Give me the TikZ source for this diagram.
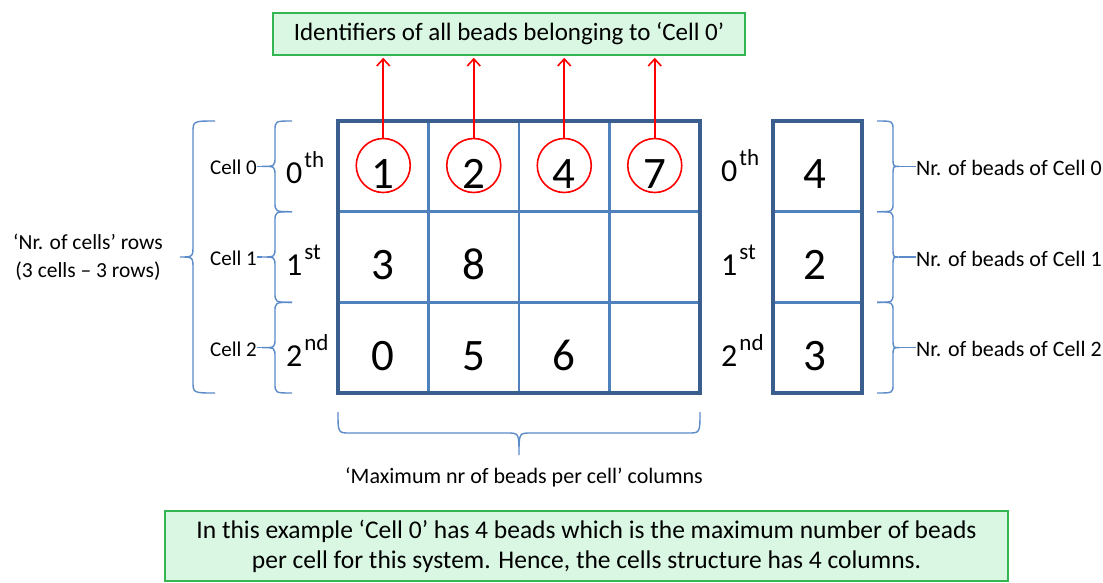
\documentclass[tikz,border=0pt]{standalone}
\usepackage{fontspec}
\setmainfont{Carlito}
\usetikzlibrary{arrows.meta}
\definecolor{gridout}{HTML}{3A5F8F}
\definecolor{gridin}{HTML}{4F81BD}
\definecolor{brcol}{HTML}{5B8BC9}
\definecolor{gfill}{HTML}{D9F7E2}
\definecolor{gline}{HTML}{33B552}
\newcommand\fsz[2]{\fontsize{#1}{#2}\selectfont}
\newcommand\ordn[2]{{\fsz{32}{34}#1}\hspace{2pt}\raisebox{16pt}{\fsz{23}{25}#2}}
\newcommand\vbr[6]{\draw[bracestyle] (#1,#4) .. controls (#2,#4) .. (#2,{#4+#6}) -- (#2,{(#4+#5)/2-#6}) .. controls (#2,{(#4+#5)/2}) .. (#3,{(#4+#5)/2}) .. controls (#2,{(#4+#5)/2}) .. (#2,{(#4+#5)/2+#6}) -- (#2,{#5-#6}) .. controls (#2,#5) .. (#1,#5);}
\begin{document}
\begin{tikzpicture}[x=1pt,y=-1pt,
  gbox/.style={draw=gline,fill=gfill,line width=1.6pt,inner sep=0pt,align=center},
  bracestyle/.style={draw=brcol,line width=1.4pt},
  digit/.style={anchor=base,font=\fsz{45}{48},inner sep=0pt},
  ord/.style={anchor=base west,inner sep=0pt},
  lab/.style={font=\fsz{22}{26},inner sep=0pt},
  bead/.style={circle,draw=red,line width=1.6pt,minimum size=54pt,inner sep=0pt},
  arr/.style={draw=red,line width=1.6pt,-{Straight Barb[length=7pt,width=13pt]}}]
\useasboundingbox (0,0) rectangle (1103,582);
% top box
\node[gbox,minimum width=472pt,minimum height=42pt,font=\fsz{25}{30}] (top) at (509,34) {Identifiers of all beads belonging to ‘Cell 0’};
% grid
\foreach \x in {428.5,519,609.5} \draw[gridin,line width=2.8pt] (\x,121) -- (\x,393);
\foreach \y in {211.7,302.3} \draw[gridin,line width=2.8pt] (338,\y) -- (700,\y);
\draw[gridout,line width=3.4pt] (338,121) rectangle (700,393);
% right column
\foreach \y in {211.7,302.3} \draw[gridin,line width=2.8pt] (773,\y) -- (862,\y);
\draw[gridout,line width=3.4pt] (773,121) rectangle (862,393);
% digits
\node[digit] (d00) at (383.25,188) {1};
\node[digit] (d01) at (473.75,188) {2};
\node[digit] (d02) at (564.25,188) {4};
\node[digit] (d03) at (654.75,188) {7};
\node[digit] (d10) at (383.25,279) {3};
\node[digit] (d11) at (473.75,279) {8};
\node[digit] (d20) at (383.25,370) {0};
\node[digit] (d21) at (473.75,370) {5};
\node[digit] (d22) at (564.25,370) {6};
\node[digit] (n0) at (815,188) {4};
\node[digit] (n1) at (815,279) {2};
\node[digit] (n2) at (815,370) {3};
% bead circles and arrows
\node[bead] (c1) at (383.25,165.5) {};
\node[bead] (c2) at (473.75,165.5) {};
\node[bead] (c3) at (564.25,165.5) {};
\node[bead] (c4) at (654.75,165.5) {};
\foreach \c in {c1,c2,c3,c4} \draw[arr] (\c.north) -- ([yshift=-2pt]\c.north |- top.south);
% ordinals
\node[ord] (lo0) at (286,183) {\ordn{0}{th}};
\node[ord] (lo1) at (286,275) {\ordn{1}{st}};
\node[ord] (lo2) at (286,366) {\ordn{2}{nd}};
\node[ord] (ro0) at (721,181) {\ordn{0}{th}};
\node[ord] (ro1) at (721,275) {\ordn{1}{st}};
\node[ord] (ro2) at (721,366) {\ordn{2}{nd}};
% left inner braces
\vbr{292}{275}{262}{121}{211.7}{10}
\vbr{292}{275}{262}{211.7}{302.3}{10}
\vbr{292}{275}{262}{302.3}{393}{10}
\coordinate (lt0) at (262,166.35);
\coordinate (lt1) at (262,257);
\coordinate (lt2) at (262,347.65);
\node[lab,anchor=base east,font=\fsz{21}{24}] (cl0) at (257,174) {Cell 0};
\node[lab,anchor=base east,font=\fsz{21}{24}] (cl1) at (257,265) {Cell 1};
\node[lab,anchor=base east,font=\fsz{21}{24}] (cl2) at (257,356) {Cell 2};
\draw[bracestyle] (lt0) -- (lt0 -| cl0.east);
\draw[bracestyle] (lt1) -- (lt1 -| cl1.east);
\draw[bracestyle] (lt2) -- (lt2 -| cl2.east);
% outer left brace
\vbr{215}{193}{180}{121}{393}{12}
\node[lab,align=center,font=\fsz{21.5}{28}] (rowslab) at (88,257) {‘Nr. of cells’ rows\\(3 cells – 3 rows)};
% right braces
\vbr{877}{893}{899}{121}{211.7}{9}
\vbr{877}{893}{899}{211.7}{302.3}{9}
\vbr{877}{893}{899}{302.3}{393}{9}
\coordinate (rt0) at (899,166.35);
\coordinate (rt1) at (899,257);
\coordinate (rt2) at (899,347.65);
\node[lab,anchor=base west] (rl0) at (916,175) {Nr. of beads of Cell 0};
\node[lab,anchor=base west] (rl1) at (916,266) {Nr. of beads of Cell 1};
\node[lab,anchor=base west] (rl2) at (916,356) {Nr. of beads of Cell 2};
\draw[bracestyle] (rt0) -- (rt0 -| rl0.west);
\draw[bracestyle] (rt1) -- (rt1 -| rl1.west);
\draw[bracestyle] (rt2) -- (rt2 -| rl2.west);
% bottom brace
\draw[bracestyle] (338,412) .. controls (338,433) .. (350,433) -- (507,433) .. controls (519,433) .. (519,455) .. controls (519,433) .. (531,433) -- (688,433) .. controls (700,433) .. (700,412);
\node[lab] (collab) at (524,477) {‘Maximum nr of beads per cell’ columns};
% bottom box
\node[gbox,minimum width=843pt,minimum height=70pt,font=\fsz{25.5}{30}] (note) at (586.5,546) {In this example ‘Cell 0’ has 4 beads which is the maximum number of beads\\per cell for this system. Hence, the cells structure has 4 columns.};
\end{tikzpicture}
\end{document}
